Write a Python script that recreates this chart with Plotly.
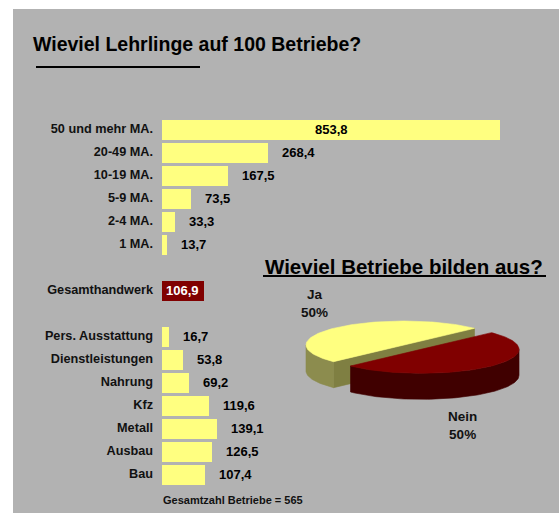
import numpy as np
import plotly.graph_objects as go

W, H = 559, 513

# ---------------- data ----------------
size_labels = ["50 und mehr MA.", "20-49 MA.", "10-19 MA.", "5-9 MA.", "2-4 MA.", "1 MA."]
size_values = [853.8, 268.4, 167.5, 73.5, 33.3, 13.7]
total_label = "Gesamthandwerk"
total_value = 106.9
sector_labels = ["Pers. Ausstattung", "Dienstleistungen", "Nahrung", "Kfz", "Metall", "Ausbau", "Bau"]
sector_values = [16.7, 53.8, 69.2, 119.6, 139.1, 126.5, 107.4]
pie_labels = ["Ja", "Nein"]
pie_values = [50, 50]
total_firms = 565

title_bar = "Wieviel Lehrlinge auf 100 Betriebe?"
title_pie = "Wieviel Betriebe bilden aus?"

# ---------------- style ----------------
FONT = "Liberation Sans, Arial, sans-serif"
PANEL = "#B2B2B2"
YEL = "#FFFF80"
RED = "#800000"


def fmt(v):
    return f"{v:.1f}".replace(".", ",")


# slot positions (one empty slot between the groups)
size_pos = list(range(len(size_values)))
total_pos = size_pos[-1] + 2
sector_pos = [total_pos + 2 + i for i in range(len(sector_values))]
n_slots = sector_pos[-1] + 1

# pixel layout of the bar area
row0_px, row_step = 129, 23
bar_x0_px, bar_x1_px = 162, 545
px_per_unit = 0.396
x_max = (bar_x1_px - bar_x0_px) / px_per_unit
y_top_px = row0_px - row_step / 2
y_bot_px = row0_px + row_step * (n_slots - 0.5)

fig = go.Figure()

fig.add_trace(go.Bar(y=size_pos, x=size_values, orientation="h", marker=dict(color=YEL, line=dict(width=0)),
                     width=0.87, hoverinfo="skip", showlegend=False))
fig.add_trace(go.Bar(y=[total_pos], x=[total_value], orientation="h", marker=dict(color=RED, line=dict(width=0)),
                     width=0.87, hoverinfo="skip", showlegend=False))
fig.add_trace(go.Bar(y=sector_pos, x=sector_values, orientation="h", marker=dict(color=YEL, line=dict(width=0)),
                     width=0.87, hoverinfo="skip", showlegend=False))

annotations = []
val_font = dict(family=FONT, size=13, color="black", weight="bold")
max_v = max(size_values)
for p, v in list(zip(size_pos, size_values)) + list(zip(sector_pos, sector_values)):
    if v == max_v:
        annotations.append(dict(x=v / 2, y=p, xref="x", yref="y", text=fmt(v), showarrow=False,
                                xanchor="center", yanchor="middle", font=val_font))
    else:
        annotations.append(dict(x=v, y=p, xref="x", yref="y", text=fmt(v), showarrow=False,
                                xanchor="left", yanchor="middle", xshift=12, font=val_font))
annotations.append(dict(x=0, y=total_pos, xref="x", yref="y", text=fmt(total_value), showarrow=False,
                        xanchor="left", yanchor="middle", xshift=2,
                        font=dict(family=FONT, size=13, color="white", weight="bold")))

# ---------------- 3D pie ----------------
pie_x0, pie_x1, pie_y0, pie_y1 = 280, 559, 285, 455
cx, cy = 404, 345
ra, rb, depth = 98, 24, 26
start_angle = 44
pulls = [0.0, 0.25]
top_cols = [YEL, RED]
wall_cols = ["#8C8C4E", "#400000"]
cut_cols = ["#7F7F42", "#300000"]
label_shift = [(-21, -24), (-27, 33)]


def ell(x0, y0, t, dz=0.0):
    r = np.radians(t)
    return x0 + ra * np.cos(r), y0 - rb * np.sin(r) + dz


def poly(xs, ys, col):
    fig.add_trace(go.Scatter(x=list(xs), y=list(ys), mode="lines", fill="toself", fillcolor=col,
                             line=dict(width=0.6, color=col), xaxis="x2", yaxis="y2",
                             hoverinfo="skip", showlegend=False))


tot = sum(pie_values)
a0 = start_angle
for i, v in enumerate(pie_values):
    ts, te = a0, a0 + 360 * v / tot
    a0 = te
    mid = (ts + te) / 2
    ox = cx + pulls[i] * ra * np.cos(np.radians(mid))
    oy = cy - pulls[i] * rb * np.sin(np.radians(mid))
    # visible cut faces
    for t, vis in ((ts, np.cos(np.radians(ts)) > 0), (te, np.cos(np.radians(te)) < 0)):
        if vis:
            px_, py_ = ell(ox, oy, t)
            poly([ox, px_, px_, ox, ox], [oy, py_, py_ + depth, oy + depth, oy], cut_cols[i])
    # outer wall (front half only)
    for lo, hi in ((180, 360), (540, 720)):
        s, e = max(ts, lo), min(te, hi)
        if e > s:
            th = np.linspace(s, e, 80)
            xt, yt = ell(ox, oy, th)
            xb, yb = ell(ox, oy, th[::-1], depth)
            poly(np.concatenate([xt, xb, xt[:1]]), np.concatenate([yt, yb, yt[:1]]), wall_cols[i])
    # top face
    th = np.linspace(ts, te, 120)
    xt, yt = ell(ox, oy, th)
    poly(np.concatenate([[ox], xt, [ox]]), np.concatenate([[oy], yt, [oy]]), top_cols[i])
    # label
    lx, ly = ell(ox, oy, mid, depth if np.sin(np.radians(mid)) < 0 else 0)
    annotations.append(dict(x=lx, y=ly, xref="x2", yref="y2", text=f"{pie_labels[i]}<br>{v / tot:.0%}",
                            showarrow=False, xanchor="center", yanchor="middle",
                            xshift=label_shift[i][0], yshift=-label_shift[i][1],
                            font=dict(family=FONT, size=13.5, color="#111111", weight="bold")))

# ---------------- titles ----------------
annotations.append(dict(x=31 / W, y=1 - 44 / H, xref="paper", yref="paper", text=title_bar, showarrow=False,
                        xanchor="left", yanchor="middle",
                        font=dict(family=FONT, size=19.5, color="black", weight="bold")))
annotations.append(dict(x=263 / W, y=1 - 266 / H, xref="paper", yref="paper", text=title_pie, showarrow=False,
                        xanchor="left", yanchor="middle",
                        font=dict(family=FONT, size=20.5, color="black", weight="bold")))
annotations.append(dict(x=161 / W, y=1 - 500 / H, xref="paper", yref="paper",
                        text=f"Gesamtzahl Betriebe = {total_firms}", showarrow=False,
                        xanchor="left", yanchor="middle",
                        font=dict(family=FONT, size=11, color="#111111", weight="bold")))

shapes = [
    dict(type="rect", xref="paper", yref="paper", x0=13 / W, x1=1, y0=0, y1=1 - 9 / H,
         fillcolor=PANEL, line=dict(width=0), layer="below"),
    dict(type="line", xref="paper", yref="paper", x0=36 / W, x1=200 / W, y0=1 - 67 / H, y1=1 - 67 / H,
         line=dict(color="black", width=2)),
    dict(type="line", xref="paper", yref="paper", x0=263 / W, x1=546 / W, y0=1 - 276 / H, y1=1 - 276 / H,
         line=dict(color="black", width=2)),
]

fig.update_layout(
    width=W, height=H, margin=dict(l=0, r=0, t=0, b=0),
    paper_bgcolor="white", plot_bgcolor="rgba(0,0,0,0)",
    bargap=0, showlegend=False,
    xaxis=dict(domain=[bar_x0_px / W, bar_x1_px / W], range=[0, x_max], visible=False, fixedrange=True),
    yaxis=dict(domain=[1 - y_bot_px / H, 1 - y_top_px / H], range=[n_slots - 0.5, -0.5],
               tickmode="array", tickvals=size_pos + [total_pos] + sector_pos,
               ticktext=size_labels + [total_label] + sector_labels,
               tickfont=dict(family=FONT, size=12.7, color="#111111", weight="bold"),
               ticks="", ticklabelstandoff=8, showgrid=False, zeroline=False, showline=False, fixedrange=True),
    xaxis2=dict(domain=[pie_x0 / W, pie_x1 / W], range=[pie_x0, pie_x1], visible=False, fixedrange=True,
                anchor="y2"),
    yaxis2=dict(domain=[1 - pie_y1 / H, 1 - pie_y0 / H], range=[pie_y1, pie_y0], visible=False, fixedrange=True,
                anchor="x2"),
    annotations=annotations, shapes=shapes,
)

fig.write_html("out.html", config={"displayModeBar": False})
